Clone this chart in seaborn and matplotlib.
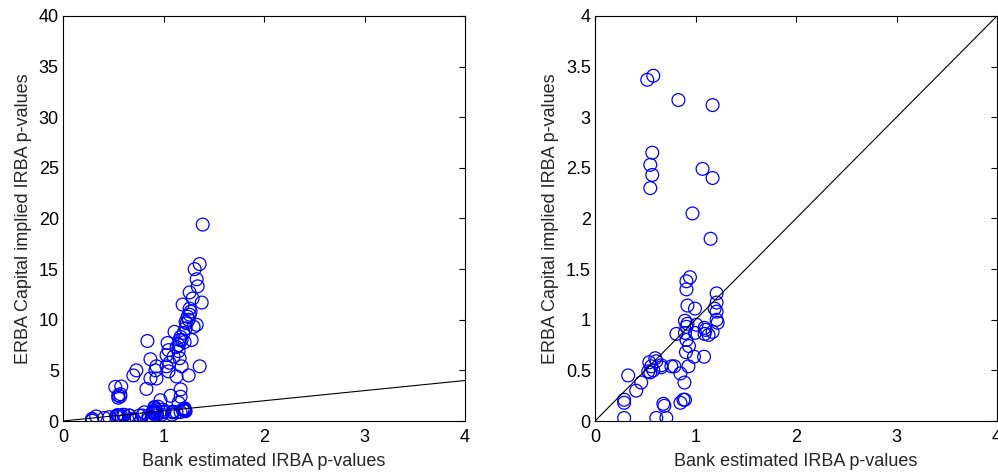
import numpy as np
import pandas as pd
import matplotlib
matplotlib.use("Agg")
import matplotlib.pyplot as plt
import seaborn as sns
from matplotlib.ticker import FuncFormatter

# Points with y < 4 (visible in both panels)
low_x = [0.58, 0.52, 0.83, 1.17, 0.57, 0.55, 0.57, 0.55, 1.07, 1.17, 0.97, 1.15,
         0.945, 0.91, 0.91, 1.21, 1.21, 1.19, 1.21, 1.21, 1.22, 0.92, 0.995, 0.895,
         0.92, 0.91, 1.01, 1.09, 1.09, 1.17, 0.995, 0.895, 0.81, 0.91, 0.935, 0.905,
         0.985, 1.085, 0.93, 0.85, 0.89, 0.88, 0.895, 0.85, 0.54, 0.60, 0.61, 0.56,
         0.53, 0.66, 0.66, 0.76, 0.79, 0.33, 0.46, 0.41, 0.29, 0.29, 0.68, 0.69,
         0.29, 0.61, 0.71, 0.58, 0.55, 1.10, 1.13]
low_y = [3.41, 3.37, 3.17, 3.12, 2.65, 2.53, 2.43, 2.30, 2.49, 2.40, 2.05, 1.80,
         1.42, 1.38, 1.30, 1.26, 1.17, 1.11, 1.08, 1.00, 0.97, 1.14, 1.11, 0.99,
         0.96, 0.93, 0.95, 0.92, 0.86, 0.88, 0.87, 0.87, 0.86, 0.80, 0.74, 0.68,
         0.635, 0.635, 0.54, 0.47, 0.38, 0.21, 0.21, 0.18, 0.58, 0.62, 0.59, 0.54,
         0.49, 0.55, 0.53, 0.54, 0.54, 0.45, 0.38, 0.30, 0.21, 0.18, 0.17, 0.15,
         0.03, 0.03, 0.03, 0.50, 0.48, 0.90, 0.85]

# Points with y > 4 (visible only in the left panel)
high_x = [1.39, 1.36, 1.31, 1.33, 1.34, 1.26, 1.29, 1.38, 1.19, 1.26, 1.27, 1.26,
          1.25, 1.23, 1.33, 1.22, 1.20, 1.17, 1.28, 1.16, 1.13, 1.15, 1.11, 1.04,
          1.05, 1.03, 1.10, 1.06, 1.16, 1.18, 1.13, 1.05, 1.03, 1.36, 1.25, 0.84,
          0.87, 0.93, 0.92, 0.87, 0.93, 0.73, 0.70, 1.24, 1.22, 1.30, 1.18, 1.21, 1.15]
high_y = [19.4, 15.5, 15.0, 14.0, 13.3, 12.7, 12.1, 11.7, 11.5, 11.1, 10.8, 10.5,
          10.0, 9.65, 9.5, 9.15, 8.7, 8.3, 8.0, 8.0, 7.3, 6.9, 8.8, 7.7,
          7.0, 6.5, 6.35, 5.75, 6.2, 5.4, 4.4, 4.9, 5.4, 5.4, 4.5, 7.9,
          6.1, 5.4, 5.0, 4.2, 4.2, 5.0, 4.5, 10.3, 9.8, 9.3, 8.0, 7.8, 7.5]

diag = [0, 4]
xticks = [0, 1, 2, 3, 4]
yticks_left = [0, 5, 10, 15, 20, 25, 30, 35, 40]
yticks_right = [0, 0.5, 1, 1.5, 2, 2.5, 3, 3.5, 4]

xlabel = "Bank estimated IRBA p-values"
ylabel = "ERBA Capital implied IRBA p-values"

sns.set_style("white")
plt.rcParams['font.family'] = ['Liberation Sans', 'DejaVu Sans']
plt.rcParams['font.size'] = 13

df = pd.DataFrame({"x": low_x + high_x, "y": low_y + high_y})

fig = plt.figure(figsize=(9.98, 4.72), dpi=100)
ax1 = fig.add_axes([63/998, 51/472, 402/998, 405/472])
ax2 = fig.add_axes([595/998, 51/472, 402/998, 405/472])

fmt = FuncFormatter(lambda v, p: ("%g" % v))

for ax, ylim, yt in [(ax1, 40, yticks_left), (ax2, 4, yticks_right)]:
    sns.lineplot(x=diag, y=diag, ax=ax, color="black", linewidth=0.8)
    sns.scatterplot(data=df, x="x", y="y", ax=ax, marker="o", s=85,
                    facecolor="none", edgecolor="#0000ff", linewidth=0.9)
    ax.set_xlim(0, 4)
    ax.set_ylim(0, ylim)
    ax.set_xticks(xticks)
    ax.set_yticks(yt)
    ax.xaxis.set_major_formatter(fmt)
    ax.yaxis.set_major_formatter(fmt)
    ax.tick_params(direction="in", length=4, width=0.8, top=True, right=True,
                   labelsize=13, pad=3, colors="black")
    ax.tick_params(axis="x", pad=6)
    for s in ax.spines.values():
        s.set_visible(True)
        s.set_color("black")
        s.set_linewidth(0.8)
    ax.set_xlabel(xlabel, fontsize=13, labelpad=5)
    ax.set_ylabel(ylabel, fontsize=13, labelpad=5)

fig.savefig("out.png", dpi=100)
